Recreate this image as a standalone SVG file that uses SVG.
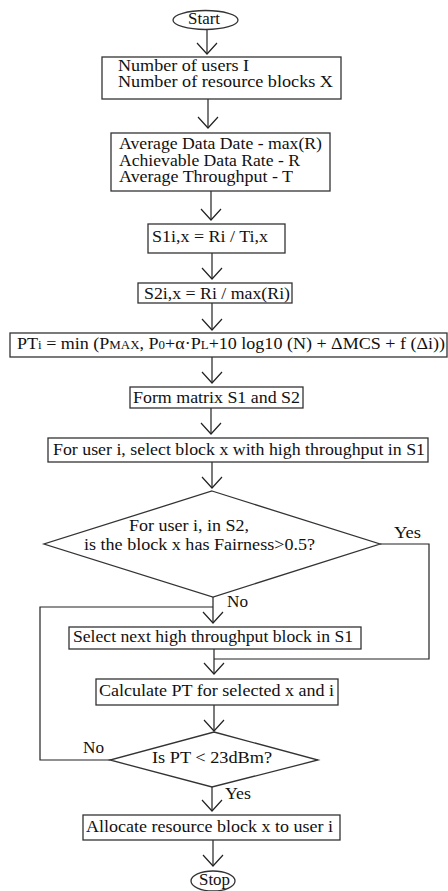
<svg xmlns="http://www.w3.org/2000/svg" width="448" height="891" viewBox="0 0 448 891">
<defs>
<style>
.n{fill:#fff;stroke:#333;stroke-width:1.3}
.c{fill:none;stroke:#222;stroke-width:1.2}
text{font-family:"Liberation Serif","Times New Roman",serif;font-size:16px;fill:#111}
.s{font-size:11.5px}
</style>
<marker id="v" markerUnits="userSpaceOnUse" markerWidth="26" markerHeight="14" viewBox="-12 -12 24 14" refX="0" refY="0" orient="auto-start-reverse" overflow="visible">
<path d="M-10,-11 L0,0 L10,-11" fill="none" stroke="#222" stroke-width="1.2" transform="rotate(-90)"/>
</marker>
</defs>
<rect width="448" height="891" fill="#fff"/>
<g id="connectors">
<line class="c" x1="207" y1="29" x2="207" y2="54" marker-end="url(#v)"/>
<line class="c" x1="208" y1="99" x2="208" y2="128" marker-end="url(#v)"/>
<line class="c" x1="211" y1="191" x2="211" y2="220" marker-end="url(#v)"/>
<line class="c" x1="212" y1="253" x2="212" y2="279" marker-end="url(#v)"/>
<line class="c" x1="212" y1="303" x2="212" y2="330" marker-end="url(#v)"/>
<line class="c" x1="212" y1="357" x2="212" y2="383" marker-end="url(#v)"/>
<line class="c" x1="211" y1="408" x2="211" y2="434" marker-end="url(#v)"/>
<line class="c" x1="212" y1="462" x2="212" y2="488" marker-end="url(#v)"/>
<line class="c" x1="213" y1="597" x2="213" y2="623" marker-end="url(#v)"/>
<polyline class="c" points="380,544 429,544 429,659 214,659"/>
<line class="c" x1="214" y1="649" x2="214" y2="674" marker-end="url(#v)"/>
<line class="c" x1="214" y1="705" x2="214" y2="731" marker-end="url(#v)"/>
<polyline class="c" points="110,760 40,760 40,607 213,607"/>
<line class="c" x1="212" y1="787" x2="212" y2="811" marker-end="url(#v)"/>
<line class="c" x1="213" y1="840" x2="213" y2="866" marker-end="url(#v)"/>
<text x="394" y="538" textLength="27" lengthAdjust="spacingAndGlyphs">Yes</text>
<text x="227" y="607" textLength="21" lengthAdjust="spacingAndGlyphs">No</text>
<text x="83" y="753" textLength="21" lengthAdjust="spacingAndGlyphs">No</text>
<text x="225" y="799" textLength="26" lengthAdjust="spacingAndGlyphs">Yes</text>
</g>
<g id="start">
<ellipse class="n" cx="205.5" cy="20" rx="32.5" ry="9.5"/>
<text x="188" y="24" textLength="32" lengthAdjust="spacingAndGlyphs">Start</text>
</g>
<g id="inputs">
<rect class="n" x="102" y="57" width="239" height="42"/>
<text x="118" y="71" textLength="131" lengthAdjust="spacingAndGlyphs">Number of users I</text>
<text x="118" y="87" textLength="215" lengthAdjust="spacingAndGlyphs">Number of resource blocks X</text>
</g>
<g id="rates">
<rect class="n" x="111" y="133" width="219" height="58"/>
<text x="119" y="149" textLength="203" lengthAdjust="spacingAndGlyphs">Average Data Date - max(R)</text>
<text x="119" y="166" textLength="181" lengthAdjust="spacingAndGlyphs">Achievable Data Rate - R</text>
<text x="119" y="182" textLength="174" lengthAdjust="spacingAndGlyphs">Average Throughput - T</text>
</g>
<g id="s1">
<rect class="n" x="148" y="224" width="137" height="29"/>
<text x="152" y="242" textLength="116" lengthAdjust="spacingAndGlyphs">S1i,x = Ri / Ti,x</text>
</g>
<g id="s2">
<rect class="n" x="138" y="283" width="154" height="20"/>
<text x="144" y="299" textLength="146" lengthAdjust="spacingAndGlyphs">S2i,x = Ri / max(Ri)</text>
</g>
<g id="pt">
<rect class="n" x="10" y="333" width="437" height="24"/>
<text x="17" y="349" textLength="428" lengthAdjust="spacingAndGlyphs">PT<tspan class="s">i</tspan> = min (P<tspan class="s">MAX</tspan>, P<tspan class="s">0</tspan>+α·P<tspan class="s">L</tspan>+10 log10 (N) + ΔMCS + f (Δi))</text>
</g>
<g id="matrix">
<rect class="n" x="130" y="387" width="173" height="21"/>
<text x="133" y="403" textLength="167" lengthAdjust="spacingAndGlyphs">Form matrix S1 and S2</text>
</g>
<g id="select">
<rect class="n" x="48" y="438" width="380" height="24"/>
<text x="53" y="455" textLength="372" lengthAdjust="spacingAndGlyphs">For user i, select block x with high throughput in S1</text>
</g>
<g id="fairness">
<polygon class="n" points="212,491 380,544 213,597 44,544"/>
<text x="129" y="531" textLength="120" lengthAdjust="spacingAndGlyphs">For user i, in S2,</text>
<text x="84" y="550" textLength="231" lengthAdjust="spacingAndGlyphs">is the block x has Fairness&gt;0.5?</text>
</g>
<g id="next">
<rect class="n" x="69" y="627" width="292" height="22"/>
<text x="73" y="642" textLength="280" lengthAdjust="spacingAndGlyphs">Select next high throughput block in S1</text>
</g>
<g id="calc">
<rect class="n" x="96" y="679" width="242" height="26"/>
<text x="99" y="696" textLength="235" lengthAdjust="spacingAndGlyphs">Calculate PT for selected x and i</text>
</g>
<g id="ptcheck">
<polygon class="n" points="214,732 318,760 212,787 110,760"/>
<text x="152" y="763" textLength="120" lengthAdjust="spacingAndGlyphs">Is PT &lt; 23dBm?</text>
</g>
<g id="allocate">
<rect class="n" x="83" y="815" width="257" height="25"/>
<text x="86" y="832" textLength="247" lengthAdjust="spacingAndGlyphs">Allocate resource block x to user i</text>
</g>
<g id="stop">
<ellipse class="n" cx="213" cy="881" rx="22" ry="10"/>
<text x="199" y="885" textLength="31" lengthAdjust="spacingAndGlyphs">Stop</text>
</g>
</svg>
